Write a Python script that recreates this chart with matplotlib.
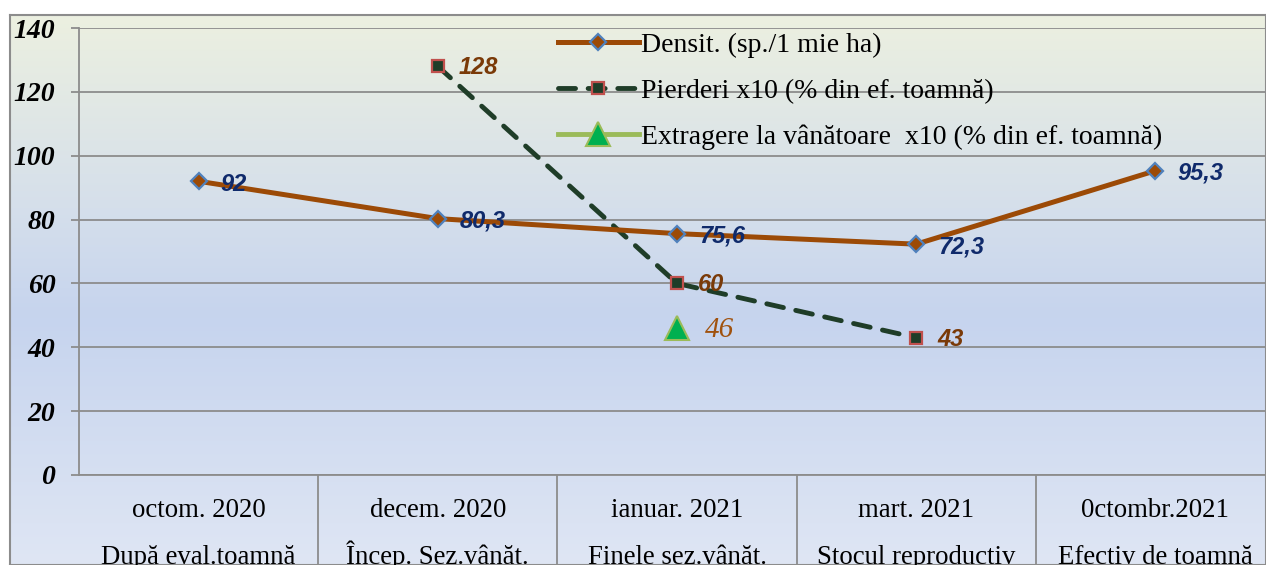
import numpy as np
import matplotlib
matplotlib.use('Agg')
from matplotlib import pyplot as plt
from matplotlib import transforms
from matplotlib.colors import LinearSegmentedColormap

periods = ['octom. 2020', 'decem. 2020', 'ianuar. 2021', 'mart. 2021', '0ctombr.2021']
stages = ['După eval.toamnă', 'Încep. Sez.vânăt.', 'Finele sez.vânăt.',
          'Stocul reproductiv', 'Efectiv de toamnă']
densit = [92, 80.3, 75.6, 72.3, 95.3]
densit_lbl = ['92', '80,3', '75,6', '72,3', '95,3']
pierderi = [np.nan, 128, 60, 43, np.nan]
pierderi_lbl = ['', '128', '60', '43', '']
extragere = [np.nan, np.nan, 46, np.nan, np.nan]
extragere_lbl = ['', '', '46', '', '']
yticks = [0, 20, 40, 60, 80, 100, 120, 140]

W, H = 1266, 565
fig = plt.figure(figsize=(W / 100, H / 100), dpi=100)

# gradient background of the chart area
bg = fig.add_axes([10 / W, 0, 1 - 10 / W, 1 - 15 / H])
cmap = LinearSegmentedColormap.from_list('bg', [(0, '#ecf0e0'), (0.35, '#d5dfeb'),
                                                 (0.55, '#c6d4ee'), (1, '#dfe6f4')])
grad = np.linspace(0, 1, 256).reshape(-1, 1)
bg.imshow(grad, aspect='auto', cmap=cmap, extent=[0, 1, 0, 1], origin='upper')
bg.set_xticks([])
bg.set_yticks([])
for s in bg.spines.values():
    s.set_color('#8c8c8c')
    s.set_linewidth(1.5)
bg.set_zorder(-10)

ax = fig.add_axes([79 / W, 90 / H, 1196 / W, 447 / H])
ax.patch.set_alpha(0)
x = np.arange(len(periods))
ax.set_xlim(-0.5, 4.5)
ax.set_ylim(0, 140)

ax.yaxis.grid(True, color='#8c8c8c', lw=1.3)
ax.set_axisbelow(True)
for s in ['top', 'right']:
    ax.spines[s].set_visible(False)
ax.spines['left'].set_color('#8c8c8c')
ax.spines['left'].set_linewidth(1.3)
ax.spines['bottom'].set_color('#8c8c8c')
ax.spines['bottom'].set_linewidth(1.3)

ax.set_yticks(yticks)
ax.set_yticklabels([str(v) for v in yticks], family='Liberation Serif',
                   fontweight='bold', fontstyle='italic', fontsize=20)
ax.tick_params(axis='y', length=6, color='#8c8c8c', width=1.3, pad=11)

# category table under the axis
ax.set_xticks(x)
ax.set_xticklabels([])
ax.tick_params(axis='x', which='major', length=0)
ax.set_xticks(x[:-1] + 0.5, minor=True)
ax.tick_params(axis='x', which='minor', length=80, color='#8c8c8c', width=1.3)
trans = transforms.blended_transform_factory(ax.transData, ax.transAxes)
for xi, p, s in zip(x, periods, stages):
    ax.text(xi, -42 / 447, p, transform=trans, ha='center', va='baseline',
            family='Liberation Serif', fontsize=19.3, clip_on=False)
    ax.text(xi, -89 / 447, s, transform=trans, ha='center', va='baseline',
            family='Liberation Serif', fontsize=19.3, clip_on=False)

ax.plot(x, densit, color='#9c4a06', lw=3.6, marker='D', ms=8.5, mfc='#9c4a06',
        mec='#4f81bd', mew=1.6, label='Densit. (sp./1 mie ha)', zorder=4)
ax.plot(x, pierderi, color='#1f3d28', lw=3.5, ls=(0, (3.5, 2.6)), dash_capstyle='round',
        marker='s', ms=8.5, mfc='#1f3d28', mec='#c0504d', mew=1.6,
        label='Pierderi x10 (% din ef. toamnă)', zorder=3)
ax.plot(x, extragere, color='#9bbb59', lw=3.5, marker='^', ms=17, mfc='#00b050',
        mec='#9bbb59', mew=1.5, label='Extragere la vânătoare  x10 (% din ef. toamnă)', zorder=3)

for xi, v, t in zip(x, densit, densit_lbl):
    ax.annotate(t, (xi, v), xytext=(16, -2), textcoords='offset points', ha='left', va='center',
                fontsize=17, fontweight='bold', fontstyle='italic', family='Liberation Sans',
                color='#0f2a6b', zorder=6)
for xi, v, t in zip(x, pierderi, pierderi_lbl):
    if t:
        ax.annotate(t, (xi, v), xytext=(15, -1), textcoords='offset points', ha='left', va='center',
                    fontsize=17, fontweight='bold', fontstyle='italic', family='Liberation Sans',
                    color='#7a3a08', zorder=6)
for xi, v, t in zip(x, extragere, extragere_lbl):
    if t:
        ax.annotate(t, (xi, v), xytext=(20, -1), textcoords='offset points', ha='left', va='center',
                    fontsize=21, fontstyle='italic', family='Liberation Serif',
                    color='#a0520e', zorder=6)

leg = ax.legend(loc='upper left', bbox_to_anchor=(547 / W, 1 - 21 / H),
                bbox_transform=fig.transFigure, frameon=False,
                prop={'family': 'Liberation Serif', 'size': 20},
                handlelength=2.9, handletextpad=0.1, labelspacing=0.75, borderaxespad=0)

fig.savefig('out.png', dpi=100)
